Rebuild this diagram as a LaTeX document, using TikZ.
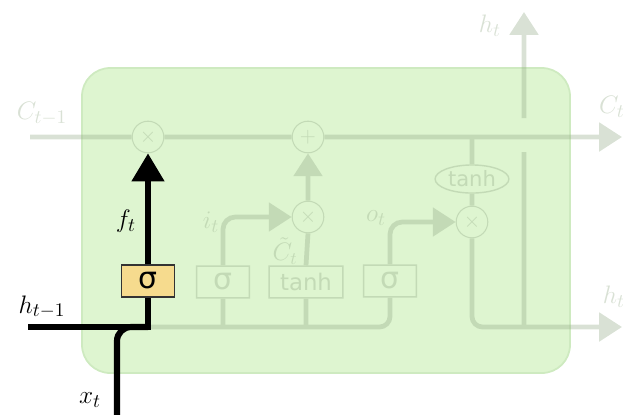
\documentclass[tikz,border=0pt]{standalone}
\usepackage{amsmath}
\usepackage{fontspec}
\usepackage{xcolor}
\usepackage{tikz}
\usetikzlibrary{arrows.meta, positioning, shapes.geometric, calc}
\newfontfamily\gatefont{DejaVu Sans}

\definecolor{cellgreen}{RGB}{222,245,208}
\definecolor{celledge}{RGB}{206,234,192}
\definecolor{fadeink}{RGB}{146,169,134}
\definecolor{gateyellow}{RGB}{246,219,142}

\begin{document}
\begin{tikzpicture}[x=0.02cm, y=-0.02cm,
  fadeline/.style={draw=fadeink, line width=2.7pt},
  fadetip/.style={-{Triangle[length=13pt, width=16pt]}},
  op/.style={circle, draw=fadeink, line width=0.6pt, fill=cellgreen, minimum size=18pt, inner sep=0pt, text=fadeink, font=\large},
  gatebox/.style={rectangle, draw=fadeink, line width=0.8pt, fill=cellgreen, minimum height=18pt, text=fadeink, font=\gatefont\fontsize{13}{15}\selectfont},
  lbl/.style={font=\fontsize{15.5}{17}\selectfont},
  flow/.style={draw=black, line width=3.5pt}]
  \useasboundingbox (0,0) rectangle (623,414);

  % LSTM cell body
  \draw[celledge, fill=cellgreen, line width=1pt, rounded corners=16pt] (82,68) rectangle (570,373);

  % the rest of the cell, faded out
  \begin{scope}[transparency group, opacity=0.35]
    % pointwise operations and gates
    \node[op] (fx) at (148,137) {$\times$};
    \node[op] (add) at (308,137) {$+$};
    \node[op] (ix) at (308,217) {$\times$};
    \node[op] (ox) at (472,222) {$\times$};
    \node[ellipse, draw=fadeink, line width=0.8pt, fill=cellgreen, text=fadeink, inner sep=1pt,
          minimum width=42pt, minimum height=12pt, font=\gatefont\fontsize{12}{13}\selectfont] (th) at (472,179) {tanh};
    \node[gatebox, minimum width=30pt] (isig) at (223,282) {\fontsize{17}{18}\selectfont σ};
    \node[gatebox, minimum width=42pt] (ctanh) at (306,282) {tanh};
    \node[gatebox, minimum width=30pt] (osig) at (390,281) {\fontsize{17}{18}\selectfont σ};

    \coordinate (cin) at (30,137);
    \coordinate (cout) at (622,137);
    \coordinate (fj) at (148,327);
    \coordinate (hj) at (524,327);
    \coordinate (hout) at (622,327);
    \coordinate (gapb) at (524,152);
    \coordinate (gapt) at (524,118);
    \coordinate (htop) at (524,12);

    % cell state
    \draw[fadeline] (cin) -- (fx.west);
    \draw[fadeline] (fx.east) -- (add.west);
    \draw[fadeline, fadetip] (add.east) -- (cout);
    \draw[fadeline] (th.north) -- (th.north |- cin);
    \draw[fadeline] (th.south) -- (ox.north);

    % input and output gates
    \draw[fadeline, rounded corners=6pt] (fj) -| (osig.south);
    \draw[fadeline] (isig.south) -- (isig.south |- fj);
    \draw[fadeline] (ctanh.south) -- (ctanh.south |- fj);
    \draw[fadeline, rounded corners=7pt, fadetip] (isig.north) |- (ix.west);
    \draw[fadeline, rounded corners=7pt, fadetip] (osig.north) |- (ox.west);
    \draw[fadeline] (ctanh.north) -- (ix.south);
    \draw[fadeline, fadetip] (ix.north) -- (add.south);

    % hidden state out
    \draw[fadeline, rounded corners=6pt, fadetip] (ox.south) |- (hout);
    \draw[fadeline] (hj) -- (gapb);
    \draw[fadeline, fadetip] (gapt) -- (htop);

    \node[lbl, text=fadeink] (cprev) at (42,114) {$C_{t-1}$};
    \node[lbl, text=fadeink] (hup) at (490,26) {$h_t$};
    \node[lbl, text=fadeink] (cnext) at (612,107) {$C_t$};
    \node[lbl, text=fadeink] (hnext) at (614,297) {$h_t$};
    \node[lbl, text=fadeink] (ilbl) at (211,222) {$i_t$};
    \node[lbl, text=fadeink, font=\fontsize{14}{15}\selectfont, inner sep=1pt] (clbl) at (285,251) {$\tilde{C}_t$};
    \node[lbl, text=fadeink] (olbl) at (376,218) {$o_t$};
  \end{scope}

  % forget gate, highlighted
  \node[rectangle, draw=black!80, line width=0.9pt, fill=gateyellow, minimum width=30pt, minimum height=18pt,
        font=\gatefont\fontsize{17}{18}\selectfont] (fsig) at (148,281) {σ};
  \coordinate (hin) at (28,327);
  \coordinate (xin) at (117,416);
  \draw[flow] (hin) -- (fj) -- (fsig.south);
  \draw[flow, rounded corners=8pt] (xin) |- (fj);
  \draw[flow, -{Triangle[length=16pt, width=18pt]}] (fsig.north) -- (fx.south);

  \node[lbl] (flbl) at (126,221) {$f_t$};
  \node[lbl] (hlbl) at (42,307) {$h_{t-1}$};
  \node[lbl] (xlbl) at (90,400) {$x_t$};
\end{tikzpicture}
\end{document}
